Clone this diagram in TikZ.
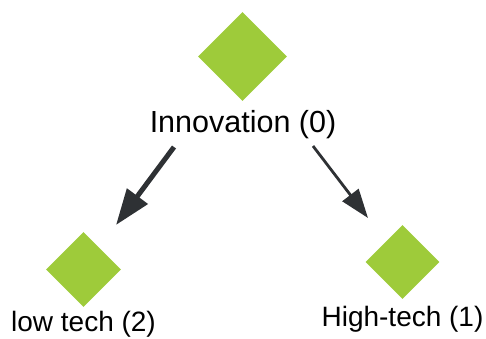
\documentclass[tikz,border=0pt]{standalone}
\usepackage{fontspec}
\setmainfont{Liberation Sans}
\usepackage{xcolor}
\usetikzlibrary{shapes.geometric, arrows.meta}
\definecolor{leafgreen}{RGB}{158,203,58}
\definecolor{arrowgray}{RGB}{46,49,52}

\begin{document}
\begin{tikzpicture}[
  x=1pt, y=-1pt,
  every node/.style={inner sep=0pt},
  gem/.style={diamond, fill=leafgreen, draw=none, minimum width=#1, minimum height=#1},
  lbl/.style={anchor=base, font=\fontsize{28}{32}\selectfont},
  thickarrow/.style={-{Triangle[length=36pt, width=25pt]}, line width=5pt, arrowgray},
  thinarrow/.style={-{Triangle[length=29pt, width=20pt]}, line width=2.8pt, arrowgray}
]
\useasboundingbox (0,0) rectangle (486,338);
\node[gem=89] (inno) at (242.5,56.5) {};
\node[lbl, font=\fontsize{30.5}{34}\selectfont] (innoL) at (243,132) {Innovation (0)};
\node[gem=75] (low) at (83.5,269.5) {};
\node[lbl] (lowL) at (83.5,331) {low tech (2)};
\node[gem=74] (high) at (402.5,262) {};
\node[lbl] (highL) at (402.5,326) {High-tech (1)};
\coordinate (lowS) at (174,147);
\coordinate (lowE) at (116,225);
\coordinate (highS) at (313,146);
\coordinate (highE) at (368,218);
\draw[thickarrow] (lowS) -- (lowE);
\draw[thinarrow] (highS) -- (highE);
\end{tikzpicture}
\end{document}
